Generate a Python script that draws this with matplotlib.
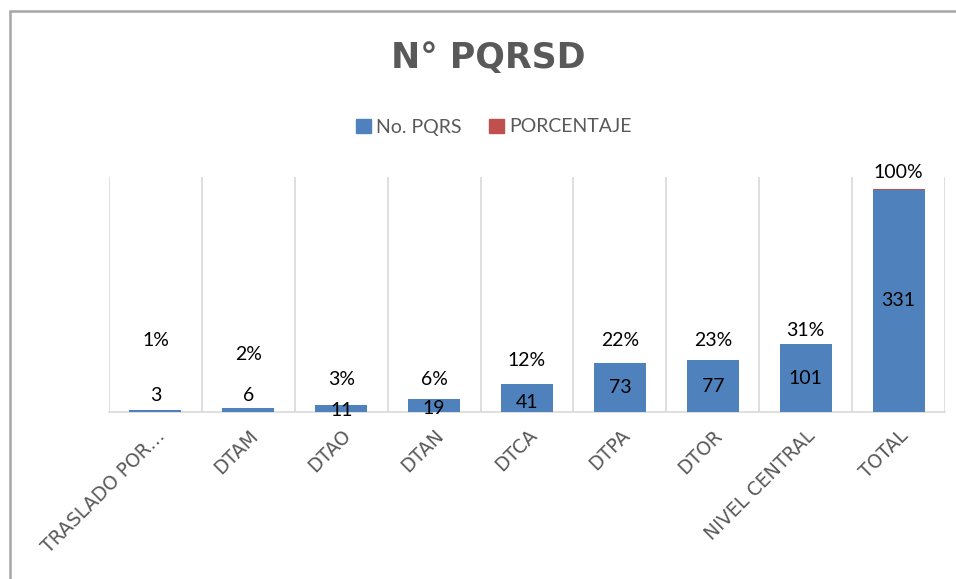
import matplotlib.pyplot as plt
from matplotlib.patches import Rectangle, Patch

categories = ['TRASLADO POR…', 'DTAM', 'DTAO', 'DTAN', 'DTCA', 'DTPA', 'DTOR',
              'NIVEL CENTRAL', 'TOTAL']
pqrs = [3, 6, 11, 19, 41, 73, 77, 101, 331]
porcentaje = [0.01, 0.02, 0.03, 0.06, 0.12, 0.22, 0.23, 0.31, 1.00]

# label placement (data units) as positioned in the original chart
pct_label_y = [107, 85, 49, 49, 76, 106, 106, 122, 357]
count_label_y = [25, 25, 2, 5, 14, None, None, None, None]

BLUE = '#4F81BD'
RED = '#C0504D'
GRAY = '#595959'
plt.rcParams['font.family'] = ['Lato', 'DejaVu Sans']

fig = plt.figure(figsize=(9.56, 5.79), dpi=100)
ax = fig.add_axes([109 / 956, 1 - 412 / 579, 836 / 956, 235 / 579])

x = range(len(categories))
ax.bar(x, pqrs, width=0.56, color=BLUE, linewidth=0, zorder=3)
ax.bar(x, porcentaje, bottom=pqrs, width=0.56, color=RED, linewidth=0, zorder=3)

for i, v in enumerate(pqrs):
    y = count_label_y[i] if count_label_y[i] is not None else v / 2
    ax.text(i, y, str(v), ha='center', va='center', fontsize=14, color='black', zorder=4)
    ax.text(i, pct_label_y[i], f'{porcentaje[i]:.0%}', ha='center', va='center',
            fontsize=14, color='black', zorder=4)

ax.set_xlim(-0.5, len(categories) - 0.5)
ax.set_ylim(0, 350)
ax.set_yticks([])
ax.set_xticks(list(x))
ax.set_xticklabels(categories, rotation=45, ha='right', rotation_mode='anchor',
                   fontsize=13.5, color=GRAY, family='DejaVu Sans')
ax.tick_params(axis='x', length=0, pad=10)
for b in [i - 0.5 for i in range(len(categories) + 1)]:
    ax.axvline(b, color='#D9D9D9', linewidth=1.2, zorder=1)
for s in ['top', 'left', 'right']:
    ax.spines[s].set_visible(False)
ax.spines['bottom'].set_color('#D9D9D9')
ax.spines['bottom'].set_linewidth(1.2)

fig.text(488 / 956, 1 - 58 / 579, 'N° PQRSD', ha='center', va='center',
         fontsize=25, fontweight='bold', color=GRAY, family='DejaVu Sans')

handles = [Patch(color=BLUE, label='No. PQRS'), Patch(color=RED, label='PORCENTAJE')]
fig.legend(handles=handles, loc='center', bbox_to_anchor=(494 / 956, 1 - 127 / 579),
           ncol=2, frameon=False, fontsize=14, labelcolor=GRAY,
           handlelength=0.75, handleheight=0.75, handletextpad=0.3, columnspacing=1.4)

fig.patches.append(Rectangle((10 / 956, -0.1), 1.2, 1.1 - 10.5 / 579,
                             transform=fig.transFigure, fill=False,
                             edgecolor='#A6A6A6', linewidth=1.8, clip_on=False))

fig.savefig('out.png', dpi=100)
